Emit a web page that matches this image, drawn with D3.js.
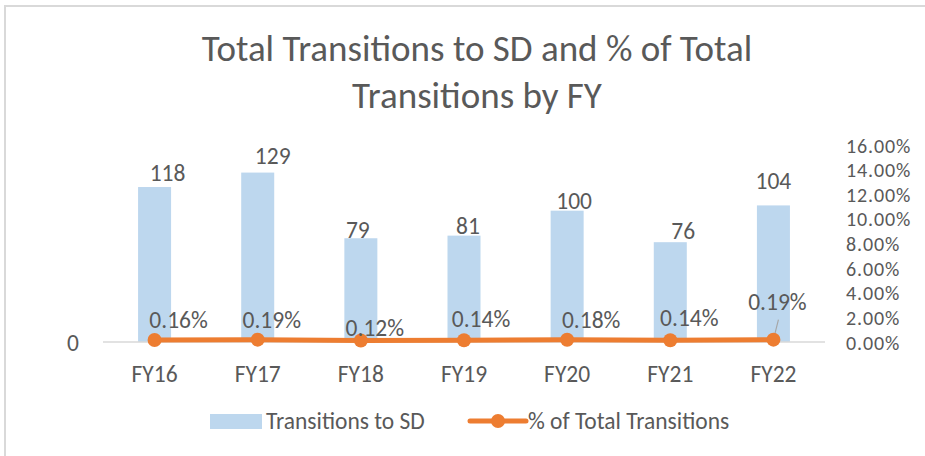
<!DOCTYPE html>
<html>
<head>
<meta charset="utf-8">
<script src="https://cdn.jsdelivr.net/npm/d3@7"></script>
<style>
  body { margin: 0; background: #fff; }
  text { font-family: Carlito, Calibri, Lato, sans-serif; fill: #595959; }
</style>
</head>
<body>
<div id="chart-area"></div>
<script>
// data
const years = ["FY16", "FY17", "FY18", "FY19", "FY20", "FY21", "FY22"]
const transitions = [118, 129, 79, 81, 100, 76, 104]
const pctTotal = [0.0016, 0.0019, 0.0012, 0.0014, 0.0018, 0.0014, 0.0019]
const pctTicks = [0, 0.02, 0.04, 0.06, 0.08, 0.10, 0.12, 0.14, 0.16]

// label nudges (px) so labels sit like the original
const barLabelNudge = [[13, -14], [15, -17], [-3, -8], [4, -10], [7, -10], [13, -11], [0, -25]]
const pctLabelNudge = [[24, -20], [14, -20], [14, -13], [17, -22], [24, -20], [19, -23], [4, -38]]

const FS = "23.5px"
const W = 925, H = 456
const MARGIN = { LEFT: 103, RIGHT: 100, TOP: 145, BOTTOM: 114 }
const WIDTH = W - MARGIN.LEFT - MARGIN.RIGHT
const HEIGHT = H - MARGIN.TOP - MARGIN.BOTTOM

const svg = d3.select("#chart-area").append("svg")
  .attr("width", W)
  .attr("height", H)

// chart frame (top + left edges visible)
svg.append("path")
  .attr("d", `M5,${H} V6 H${W}`)
  .attr("fill", "none")
  .attr("stroke", "#d9d9d9")
  .attr("stroke-width", 2)

// title
svg.append("text")
  .attr("x", 477).attr("y", 61)
  .attr("text-anchor", "middle")
  .attr("font-size", "37px")
  .text("Total Transitions to SD and % of Total")
svg.append("text")
  .attr("x", 477).attr("y", 108)
  .attr("text-anchor", "middle")
  .attr("font-size", "37px")
  .text("Transitions by FY")

const g = svg.append("g")
  .attr("transform", `translate(${MARGIN.LEFT}, ${MARGIN.TOP})`)

const x = d3.scaleBand()
  .domain(years)
  .range([0, WIDTH])
  .paddingInner(0.68)
  .paddingOuter(0.34)

const y = d3.scaleLinear()
  .domain([0, 150])
  .range([HEIGHT, 0])

const y2 = d3.scaleLinear()
  .domain([0, 0.16])
  .range([HEIGHT, 0])

const cx = d => x(d) + x.bandwidth() / 2

// bars
g.selectAll("rect.bar")
  .data(years)
  .enter().append("rect")
  .attr("class", "bar")
  .attr("x", d => x(d))
  .attr("y", (d, i) => y(transitions[i]))
  .attr("width", x.bandwidth())
  .attr("height", (d, i) => HEIGHT - y(transitions[i]))
  .attr("fill", "#BDD7EE")

// x axis line
g.append("line")
  .attr("x1", 0).attr("x2", WIDTH)
  .attr("y1", HEIGHT).attr("y2", HEIGHT)
  .attr("stroke", "#d9d9d9")
  .attr("stroke-width", 1.5)

// x axis labels
const xAxisCall = d3.axisBottom(x).tickSize(0).tickPadding(0)
const xAxisG = g.append("g")
  .attr("transform", `translate(0, ${HEIGHT})`)
  .call(xAxisCall)
xAxisG.select(".domain").remove()
xAxisG.selectAll("text")
  .attr("y", 40)
  .attr("dy", 0)
  .attr("font-size", FS)
  .attr("fill", "#595959")

// left axis: only the 0 label shows
const yAxisCall = d3.axisLeft(y).tickValues([0]).tickSize(0).tickPadding(24)
const yAxisG = g.append("g").call(yAxisCall)
yAxisG.select(".domain").remove()
yAxisG.selectAll("text")
  .attr("font-size", FS)
  .attr("fill", "#595959")
  .attr("dy", "0.35em")

// right axis
const y2AxisCall = d3.axisRight(y2)
  .tickValues(pctTicks)
  .tickSize(0)
  .tickPadding(21)
  .tickFormat(d => (d * 100).toFixed(2) + "%")
const y2AxisG = g.append("g")
  .attr("transform", `translate(${WIDTH}, 0)`)
  .call(y2AxisCall)
y2AxisG.select(".domain").remove()
y2AxisG.selectAll("text")
  .attr("font-size", "20px")
  .attr("letter-spacing", "0.9px")
  .attr("fill", "#595959")
  .attr("dy", "0.35em")

// bar value labels
g.selectAll("text.barlabel")
  .data(years)
  .enter().append("text")
  .attr("class", "barlabel")
  .attr("x", (d, i) => cx(d) + barLabelNudge[i][0])
  .attr("y", (d, i) => y(transitions[i]) + barLabelNudge[i][1])
  .attr("dy", "0.35em")
  .attr("text-anchor", "middle")
  .attr("font-size", FS)
  .text((d, i) => transitions[i])

// percentage line
const line = d3.line()
  .x(d => cx(d))
  .y((d, i) => y2(pctTotal[i]))
g.append("path")
  .datum(years)
  .attr("d", line)
  .attr("fill", "none")
  .attr("stroke", "#ED7D31")
  .attr("stroke-width", 5)
  .attr("stroke-linecap", "round")

// leader line for last label
const last = years.length - 1
g.append("line")
  .attr("x1", cx(years[last]))
  .attr("y1", y2(pctTotal[last]))
  .attr("x2", cx(years[last]) + 5)
  .attr("y2", y2(pctTotal[last]) - 20)
  .attr("stroke", "#a6a6a6")
  .attr("stroke-width", 1.2)

g.selectAll("circle.pt")
  .data(years)
  .enter().append("circle")
  .attr("class", "pt")
  .attr("cx", d => cx(d))
  .attr("cy", (d, i) => y2(pctTotal[i]))
  .attr("r", 7)
  .attr("fill", "#ED7D31")

g.selectAll("text.pctlabel")
  .data(years)
  .enter().append("text")
  .attr("class", "pctlabel")
  .attr("x", (d, i) => cx(d) + pctLabelNudge[i][0])
  .attr("y", (d, i) => y2(pctTotal[i]) + pctLabelNudge[i][1])
  .attr("dy", "0.35em")
  .attr("text-anchor", "middle")
  .attr("font-size", FS)
  .text((d, i) => (pctTotal[i] * 100).toFixed(2) + "%")

// legend
const legend = svg.append("g").attr("transform", "translate(0, 421)")
legend.append("rect")
  .attr("x", 210).attr("y", -7)
  .attr("width", 52).attr("height", 15)
  .attr("fill", "#BDD7EE")
legend.append("text")
  .attr("x", 266).attr("y", 0)
  .attr("dy", "0.35em")
  .attr("font-size", FS)
  .text("Transitions to SD")
legend.append("line")
  .attr("x1", 470).attr("x2", 526)
  .attr("y1", 0).attr("y2", 0)
  .attr("stroke", "#ED7D31")
  .attr("stroke-width", 5)
  .attr("stroke-linecap", "round")
legend.append("circle")
  .attr("cx", 498).attr("cy", 0)
  .attr("r", 7)
  .attr("fill", "#ED7D31")
legend.append("text")
  .attr("x", 528).attr("y", 0)
  .attr("dy", "0.35em")
  .attr("font-size", FS)
  .text("% of Total Transitions")
</script>
</body>
</html>
